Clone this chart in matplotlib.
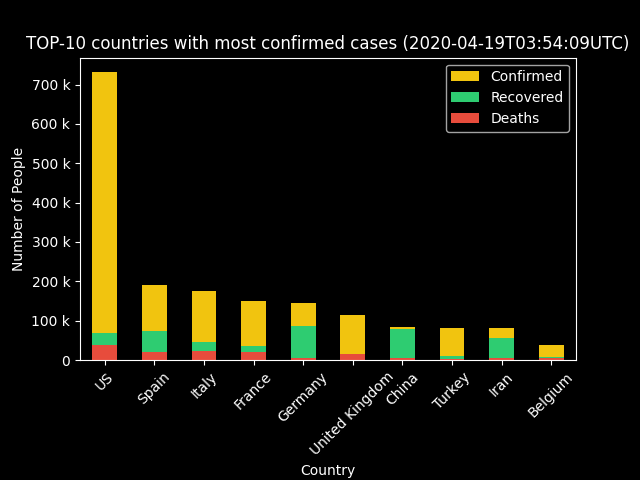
import matplotlib
matplotlib.use('Agg')
import matplotlib.pyplot as plt
from matplotlib.ticker import EngFormatter
import numpy as np

countries = ['US', 'Spain', 'Italy', 'France', 'Germany', 'United Kingdom',
             'China', 'Turkey', 'Iran', 'Belgium']
confirmed = [732197, 191726, 175925, 149130, 143724, 115314, 83805, 82329, 80868, 37183]
recovered = [68285, 74797, 44927, 34420, 85400, 436, 77690, 10453, 55987, 8348]
deaths = [38664, 20043, 23227, 19323, 4538, 15498, 4636, 1890, 5031, 5453]

plt.style.use('dark_background')
fig, ax = plt.subplots(figsize=(6.4, 4.8), dpi=100)

x = np.arange(len(countries))
# bars are drawn on top of each other, not stacked
ax.bar(x, confirmed, width=0.5, color='#f1c40f', label='Confirmed')
ax.bar(x, recovered, width=0.5, color='#2ecc71', label='Recovered')
ax.bar(x, deaths, width=0.5, color='#e74c3c', label='Deaths')

ax.set_xticks(x)
ax.set_xticklabels(countries, rotation=45)
ax.set_xlim(-0.5, len(countries) - 0.5)
ax.yaxis.set_major_formatter(EngFormatter())
ax.set_xlabel('Country')
ax.set_ylabel('Number of People')
ax.set_title('TOP-10 countries with most confirmed cases (2020-04-19T03:54:09UTC)')
ax.legend()

plt.subplots_adjust(bottom=0.25)
plt.savefig('out.png')
